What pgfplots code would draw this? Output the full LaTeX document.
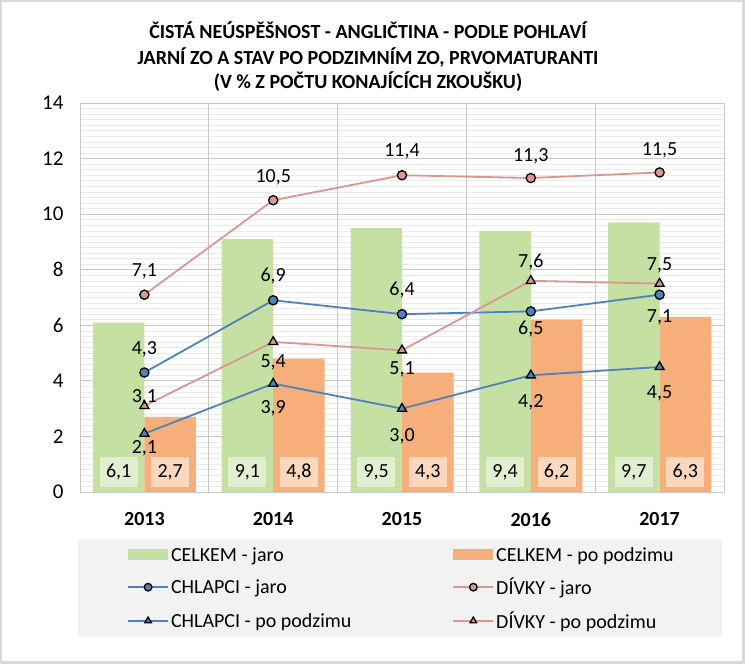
\documentclass[border=0pt]{standalone}
\usepackage{pgfplots}
\pgfplotsset{compat=1.18}
\usepackage{fontspec}
\setmainfont{Carlito}
\definecolor{barG}{HTML}{C4E0A2}
\definecolor{barO}{HTML}{F6AF7B}
\definecolor{lblue}{HTML}{4F81BD}
\definecolor{lpink}{HTML}{D99694}
\definecolor{gridc}{HTML}{C8C8C8}
\definecolor{gridm}{HTML}{EBEBEB}
\definecolor{frame}{HTML}{D9D9D9}
\definecolor{legbg}{HTML}{F2F2F2}
\newcommand{\fs}{\fontsize{20}{24}\selectfont}
\begin{document}
\begin{tikzpicture}[x=1pt,y=1pt,font=\fs]
\path[use as bounding box] (0,0) rectangle (745,664);
\fill[frame] (0,0) rectangle (745,664);
\fill[white] (2,3) rectangle (742,662);
\fill[legbg] (78,27) rectangle (722,125);
\node[font=\fs\bfseries] at (368,634) {ČISTÁ NEÚSPĚŠNOST - ANGLIČTINA - PODLE POHLAVÍ};
\node[font=\fs\bfseries] at (368,607) {JARNÍ ZO A STAV PO PODZIMNÍM ZO, PRVOMATURANTI};
\node[font=\fs\bfseries] at (368,582) {(V \% Z POČTU KONAJÍCÍCH ZKOUŠKU)};
\begin{axis}[
  at={(80pt,172pt)}, anchor=south west,
  scale only axis, width=644pt, height=389pt,
  xmin=-0.5, xmax=4.5, ymin=0, ymax=14,
  xtick={0,1,2,3,4}, xticklabels={2013,2014,2015,2016,2017},
  xticklabel style={font=\fs\bfseries, yshift=-17pt},
  ytick={0,2,...,14}, minor y tick num=9,
  yticklabel style={font=\fontsize{21}{24}\selectfont, xshift=-13pt},
  /pgf/number format/assume math mode=true,
  major tick length=0pt, minor tick length=0pt,
  ymajorgrids, yminorgrids,
  major grid style={gridc, line width=0.8pt},
  minor grid style={gridm, line width=0.6pt},
  extra x ticks={0.5,1.5,2.5,3.5}, extra x tick labels={},
  extra x tick style={grid=major, major grid style={gridc, line width=0.8pt}},
  axis line style={gridc, line width=0.8pt},
  legend columns=2,
  legend cell align=left,
  legend style={at={(47pt,-53pt)}, anchor=north west, draw=none, fill=none,
    font=\fs, row sep=11.5pt, inner sep=0pt,
    nodes={inner sep=2pt},
    /tikz/column 2/.style={column sep=99pt}},
]
\addplot[ybar, bar width=51.5pt, bar shift=-25.75pt, fill=barG, draw=none,
  area legend, legend image code/.code={\fill[barG] (0pt,-5.5pt) rectangle (40pt,5.5pt);}]
  coordinates {(0,6.1) (1,9.1) (2,9.5) (3,9.4) (4,9.7)};
\addlegendentry{CELKEM - jaro}
\addplot[ybar, bar width=51.5pt, bar shift=25.75pt, fill=barO, draw=none,
  area legend, legend image code/.code={\fill[barO] (0pt,-5.5pt) rectangle (40pt,5.5pt);}]
  coordinates {(0,2.7) (1,4.8) (2,4.3) (3,6.2) (4,6.3)};
\addlegendentry{CELKEM - po podzimu}
% bar value labels
\addplot[draw=none, mark=none, forget plot, point meta=explicit,
  nodes near coords={\pgfmathprintnumber[fixed,fixed zerofill,precision=1,use comma]{\pgfplotspointmeta}},
  every node near coord/.style={anchor=center, fill=white, fill opacity=0.5, text opacity=1,
    minimum width=38pt, minimum height=30pt, inner sep=0pt, font=\fs}]
  coordinates {(-0.2,0.72) [6.1] (0.8,0.72) [9.1] (1.8,0.72) [9.5] (2.8,0.72) [9.4] (3.8,0.72) [9.7]
               (0.2,0.72) [2.7] (1.2,0.72) [4.8] (2.2,0.72) [4.3] (3.2,0.72) [6.2] (4.2,0.72) [6.3]};
\pgfplotsset{linelab/.style={
  nodes near coords={\pgfmathprintnumber[fixed,fixed zerofill,precision=1,use comma]{\pgfplotspointmeta}},
  visualization depends on={\thisrow{dy} \as \dy},
  every node near coord/.style={anchor=center, yshift=\dy pt, font=\fs, text=black},
  legend image code/.code={\draw[mark repeat=2,mark phase=2,##1,mark size=3.8pt] plot coordinates {(0pt,0pt) (20pt,0pt) (40pt,0pt)};}}}
\addplot[lblue, line width=1.8pt, mark=*, mark size=4.6pt,
  mark options={fill=lblue, draw=black, line width=1.3pt}, linelab]
  table[x=x,y=y] {
x y dy
0 4.3 23
1 6.9 24
2 6.4 24
3 6.5 -18
4 7.1 -23
};
\addlegendentry{CHLAPCI - jaro}
\addplot[lpink, line width=1.8pt, mark=*, mark size=4.6pt,
  mark options={fill=lpink, draw=black, line width=1.3pt}, linelab]
  table[x=x,y=y] {
x y dy
0 7.1 23
1 10.5 23
2 11.4 24
3 11.3 22
4 11.5 22
};
\addlegendentry{DÍVKY - jaro}
\addplot[lblue, line width=1.8pt, mark=triangle*, mark size=5.2pt,
  mark options={fill=lblue, draw=black, line width=1.3pt}, linelab]
  table[x=x,y=y] {
x y dy
0 2.1 -15
1 3.9 -25
2 3.0 -28
3 4.2 -27
4 4.5 -26
};
\addlegendentry{CHLAPCI - po podzimu}
\addplot[lpink, line width=1.8pt, mark=triangle*, mark size=5.2pt,
  mark options={fill=lpink, draw=black, line width=1.3pt}, linelab]
  table[x=x,y=y] {
x y dy
0 3.1 9
1 5.4 -20
2 5.1 -19
3 7.6 19
4 7.5 18
};
\addlegendentry{DÍVKY - po podzimu}
\end{axis}
\end{tikzpicture}
\end{document}
